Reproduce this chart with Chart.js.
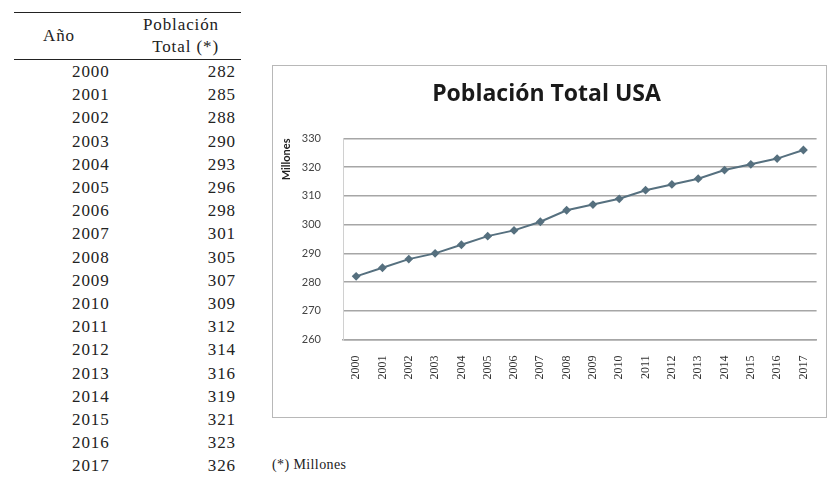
<!DOCTYPE html>
<html>
<head>
<meta charset="utf-8">
<script src="https://cdn.jsdelivr.net/npm/chart.js@4.4.1/dist/chart.umd.min.js"></script>
<style>
  body { margin: 0; background: #fff; width: 831px; height: 477px; overflow: hidden; position: relative; }
  #tabla { position: absolute; left: 14px; top: 12px; width: 227px; border-collapse: collapse; table-layout: fixed;
           font-family: "Liberation Serif", "Times New Roman", serif; font-size: 17px; letter-spacing: 0.9px; color: #222; }
  #tabla th { font-weight: normal; border-top: 1.5px solid #222; border-bottom: 1.5px solid #222;
              height: 46px; line-height: 22px; padding: 0; white-space: nowrap; }
  #tabla th.c1 { text-align: left; padding-left: 29px; }
  #tabla th.c2 { text-align: right; padding-right: 22px; }
  #tabla td { height: 23.2px; padding: 0; line-height: 17px; }
  #tabla td.anio { text-align: left; padding-left: 58px; }
  #tabla td.pob { text-align: right; padding-right: 5px; }
  #marco { position: absolute; left: 272px; top: 65px; width: 553px; height: 351px;
           border: 1.5px solid #b8b8b8; }
  #nota { position: absolute; left: 272px; top: 457px; font-family: "Liberation Serif", serif;
          font-size: 14px; letter-spacing: 0.4px; color: #222; }
</style>
</head>
<body>
<table id="tabla">
  <colgroup><col style="width:120px"><col style="width:107px"></colgroup>
  <thead><tr><th class="c1">Año</th><th class="c2">Población<br>Total (*)</th></tr></thead>
  <tbody id="filas"></tbody>
</table>
<div id="marco"><canvas id="grafico" width="553" height="351"></canvas></div>
<div id="nota">(*) Millones</div>
<script>
const anios = ['2000', '2001', '2002', '2003', '2004', '2005', '2006', '2007', '2008',
               '2009', '2010', '2011', '2012', '2013', '2014', '2015', '2016', '2017'];
const poblacion = [282, 285, 288, 290, 293, 296, 298, 301, 305,
                   307, 309, 312, 314, 316, 319, 321, 323, 326];
const ticksY = [260, 270, 280, 290, 300, 310, 320, 330];

// table rows on the left
const filas = document.getElementById('filas');
anios.forEach((a, i) => {
    const tr = document.createElement('tr');
    tr.innerHTML = '<td class="anio">' + a + '</td><td class="pob">' + poblacion[i] + '</td>';
    filas.appendChild(tr);
});

const colorLinea = '#56707f';

new Chart(document.getElementById('grafico'), {
    type: 'line',
    data: {
        labels: anios,
        datasets: [{
            data: poblacion,
            borderColor: colorLinea,
            backgroundColor: colorLinea,
            borderWidth: 2,
            pointStyle: 'rectRot',
            pointRadius: 3,
            tension: 0
        }]
    },
    options: {
        responsive: false,
        animation: false,
        layout: { padding: { left: 0, right: 6, top: 0, bottom: 0 } },
        plugins: {
            legend: { display: false },
            tooltip: { enabled: false },
            title: {
                display: true,
                text: 'Población Total USA',
                color: '#1a1a1a',
                font: { family: 'Open Sans', size: 23, weight: 'bold' },
                padding: { top: 14.7, bottom: 30.2 }
            }
        },
        scales: {
            x: {
                offset: true,
                grid: { display: false },
                border: { display: true, color: '#a6a6a6', width: 1.5 },
                ticks: {
                    minRotation: 90, maxRotation: 90, padding: 8,
                    color: '#333',
                    font: { family: 'Liberation Serif', size: 12 }
                },
                afterFit: s => { s.height = 77.5; }
            },
            y: {
                min: 260, max: 330,
                afterBuildTicks: s => { s.ticks = ticksY.map(v => ({ value: v })); },
                grid: { color: '#a6a6a6', lineWidth: 1.5, drawTicks: false },
                border: { display: true, color: '#d0d0d0', width: 1 },
                ticks: {
                    padding: 22, color: '#444',
                    font: { family: 'Lato', size: 11 }
                },
                title: {
                    display: true, text: 'Millones', align: 'end',
                    color: '#222',
                    font: { family: 'Lato', size: 11, weight: 'bold' },
                    padding: { top: 7, bottom: 0 }
                },
                afterFit: s => { s.width = 70; }
            }
        }
    }
});
</script>
</body>
</html>
